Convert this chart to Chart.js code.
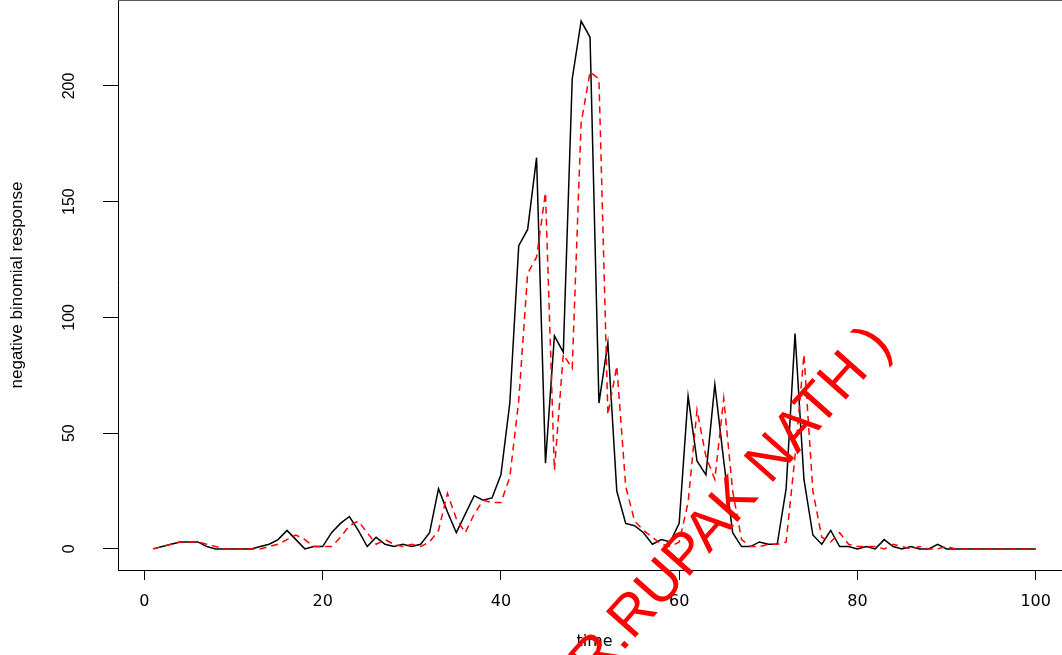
<!DOCTYPE html>
<html>
<head>
<meta charset="utf-8">
<script src="https://cdn.jsdelivr.net/npm/chart.js@4/dist/chart.umd.min.js"></script>
<style>
  html, body { margin: 0; padding: 0; background: #ffffff; overflow: hidden; }
  #wrap { width: 1062px; height: 655px; overflow: hidden; position: relative; background: #fff; }
  #c { display: block; }
</style>
</head>
<body>
<div id="wrap"><canvas id="c" width="1081" height="655" style="width:1081px;height:655px"></canvas></div>
<script>
// ---- data ----
const time = Array.from({length: 100}, (_, i) => i + 1);

const observed = [
  0, 1, 2, 3, 3, 3, 1, 0, 0, 0,
  0, 0, 1, 2, 4, 8, 4, 0, 1, 1,
  7, 11, 14, 8, 1, 5, 2, 1, 2, 1,
  2, 7, 26, 16, 7, 15, 23, 21, 22, 32,
  63, 131, 138, 169, 37, 92, 85, 203, 228, 221,
  63, 89, 25, 11, 10, 7, 2, 4, 3, 11,
  66, 38, 32, 71, 38, 7, 1, 1, 3, 2,
  2, 26, 93, 30, 6, 2, 8, 1, 1, 0,
  1, 0, 4, 1, 0, 1, 0, 0, 2, 0,
  0, 0, 0, 0, 0, 0, 0, 0, 0, 0
];

const fitted = [
  0, 1, 2, 3, 3, 3, 2, 1, 0, 0,
  0, 0, 0, 1, 2, 4, 6, 4, 1, 1,
  1, 5, 10, 12, 7, 2, 4, 2, 1, 2,
  1, 3, 8, 24, 13, 7, 15, 21, 20, 20,
  31, 64, 119, 126, 154, 34, 84, 78, 184, 206,
  203, 58, 79, 27, 12, 8, 5, 2, 1, 3,
  20, 60, 40, 30, 65, 25, 4, 1, 1, 2,
  2, 3, 40, 84, 25, 5, 3, 7, 2, 1,
  1, 1, 0, 2, 1, 0, 1, 0, 0, 1,
  0, 0, 0, 0, 0, 0, 0, 0, 0, 0
];

const xTickValues = [0, 20, 40, 60, 80, 100];
const yTickValues = [0, 50, 100, 150, 200];
const xTitle = 'time';
const yTitle = 'negative binomial response';
const watermark = '(DR.RUPAK NATH )';

// ---- chart ----
const boxPlugin = {
  id: 'boxTop',
  afterDraw(chart) {
    const ctx = chart.ctx;
    const a = chart.chartArea;
    ctx.save();
    ctx.strokeStyle = '#555555';
    ctx.lineWidth = 2;
    ctx.beginPath();
    ctx.moveTo(a.left, a.top);
    ctx.lineTo(a.right, a.top);
    ctx.stroke();
    ctx.restore();
  }
};

const watermarkPlugin = {
  id: 'watermark',
  afterDraw(chart) {
    const ctx = chart.ctx;
    ctx.save();
    ctx.translate(712, 527);
    ctx.rotate(-48.5 * Math.PI / 180);
    ctx.fillStyle = '#ff0000';
    ctx.font = '57px "Liberation Sans", Arial, sans-serif';
    ctx.textAlign = 'center';
    ctx.textBaseline = 'middle';
    ctx.fillText(watermark, 0, 0);
    ctx.restore();
  }
};

const noPad = s => { s.paddingTop = 0; s.paddingBottom = 0; s.paddingLeft = 0; s.paddingRight = 0; };

new Chart(document.getElementById('c'), {
  type: 'line',
  data: {
    datasets: [
      {
        label: 'observed',
        data: time.map((t, i) => ({x: t, y: observed[i]})),
        borderColor: '#000000',
        borderWidth: 1.5,
        pointRadius: 0,
        tension: 0,
        fill: false,
        order: 2
      },
      {
        label: 'fitted',
        data: time.map((t, i) => ({x: t, y: fitted[i]})),
        borderColor: '#ff0000',
        borderWidth: 1.5,
        borderDash: [7, 5],
        pointRadius: 0,
        tension: 0,
        fill: false,
        order: 1
      }
    ]
  },
  options: {
    responsive: false,
    animation: false,
    devicePixelRatio: 1,
    layout: { padding: { left: 0, right: 10, top: 0, bottom: 0 } },
    plugins: {
      legend: { display: false },
      tooltip: { enabled: false }
    },
    scales: {
      x: {
        type: 'linear',
        min: -2.96,
        max: 103.96,
        afterBuildTicks: s => { s.ticks = xTickValues.map(v => ({value: v})); },
        afterFit: s => { s.height = 85; noPad(s); },
        grid: { drawOnChartArea: false, drawTicks: true, tickLength: 10, color: '#000000', lineWidth: 1 },
        border: { display: true, color: '#000000', width: 1 },
        ticks: {
          autoSkip: false, maxRotation: 0, minRotation: 0,
          padding: 12, color: '#000000',
          font: { family: '"DejaVu Sans", sans-serif', size: 16 }
        },
        title: {
          display: true, text: xTitle, color: '#000000',
          font: { family: '"DejaVu Sans", sans-serif', size: 16 },
          padding: { top: 0, bottom: 4 }
        }
      },
      y: {
        type: 'linear',
        min: -9.12,
        max: 237.12,
        afterBuildTicks: s => { s.ticks = yTickValues.map(v => ({value: v})); },
        afterFit: s => { s.width = 118; noPad(s); },
        grid: { drawOnChartArea: false, drawTicks: true, tickLength: 15, color: '#000000', lineWidth: 1 },
        border: { display: true, color: '#000000', width: 1 },
        ticks: {
          autoSkip: false, minRotation: 90, maxRotation: 90,
          crossAlign: 'center', padding: 20, color: '#000000',
          font: { family: '"Liberation Sans", Arial, sans-serif', size: 16 }
        },
        title: {
          display: true, text: yTitle, color: '#000000',
          font: { family: '"Liberation Sans", Arial, sans-serif', size: 17 },
          padding: { top: 7, bottom: 0 }
        }
      }
    }
  },
  plugins: [boxPlugin, watermarkPlugin]
});
</script>
</body>
</html>
